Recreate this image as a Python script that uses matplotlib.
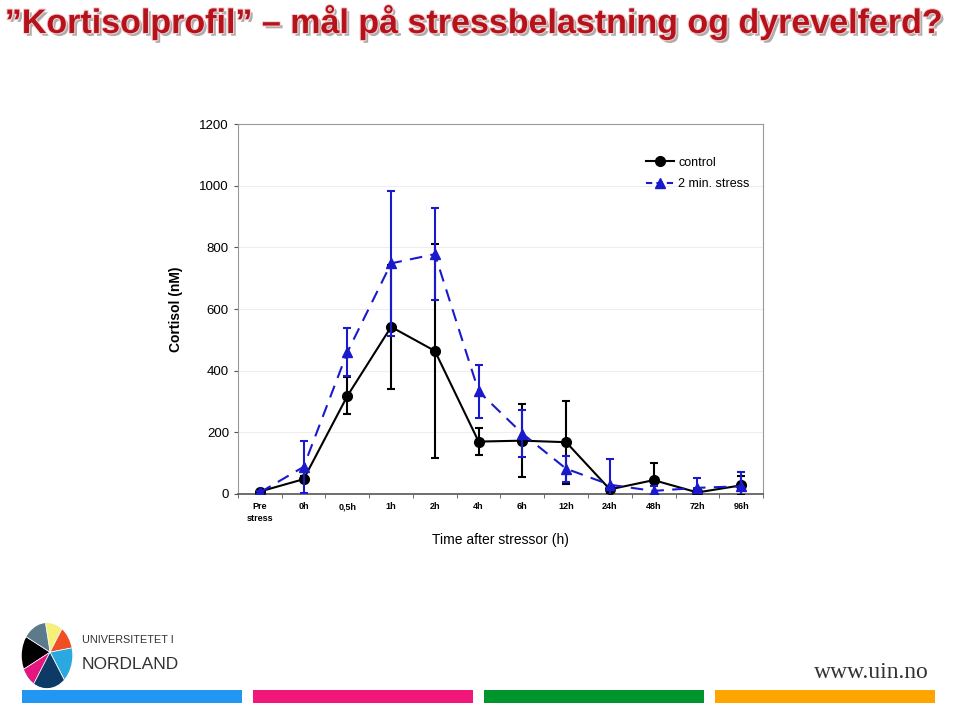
import numpy as np
import matplotlib
matplotlib.use("Agg")
import matplotlib.pyplot as plt
import matplotlib.patheffects as pe
from matplotlib.patches import Wedge, Ellipse, Rectangle
from matplotlib.lines import Line2D

categories = ["Pre\nstress", "0h", "0,5h", "1h", "2h", "4h", "6h", "12h", "24h", "48h", "72h", "96h"]
control = [8, 48, 318, 542, 464, 170, 173, 168, 15, 45, 5, 28]
control_err = [6, 10, 60, 200, 348, 43, 118, 134, 12, 55, 5, 30]
stress = [5, 88, 460, 748, 778, 333, 196, 82, 30, 10, 20, 25]
stress_err = [5, 84, 78, 235, 150, 86, 75, 42, 83, 15, 32, 47]

plt.rcParams['font.family'] = ['Liberation Sans', 'DejaVu Sans']

fig = plt.figure(figsize=(9.6, 7.03), dpi=100)

# title banner
fig.text(0.005, 0.968, "\u201dKortisolprofil\u201d \u2013 mål på stressbelastning og dyrevelferd?",
         fontsize=24.5, fontweight='bold', color='#b5121b', va='center', ha='left',
         path_effects=[pe.withSimplePatchShadow(offset=(2, -2), shadow_rgbFace='#777777', alpha=0.6),
                       pe.withStroke(linewidth=1.5, foreground='#f3d0d0')])

ax = fig.add_axes([0.2479, 0.2973, 0.5469, 0.5263])
x = np.arange(len(categories))

ax.errorbar(x, control, yerr=control_err, color='black', lw=1.5, marker='o', ms=7,
            capsize=3, elinewidth=1.5, capthick=1.5, label='control', zorder=3)
ax.errorbar(x, stress, yerr=stress_err, color='#1a1acc', lw=1.5, ls=(0, (6, 4)), marker='^', ms=7,
            capsize=3, elinewidth=1.5, capthick=1.5, label='2 min. stress', zorder=4)

ax.set_xlim(-0.5, len(categories) - 0.5)
ax.set_ylim(0, 1200)
ax.set_yticks(np.arange(0, 1201, 200))
ax.set_xticks(x)
ax.set_xticklabels(categories, fontsize=6.5, fontweight='bold', linespacing=1.35)
ax.set_xticks(np.arange(-0.5, len(categories), 1), minor=True)
ax.tick_params(axis='x', which='major', length=0, pad=6)
ax.tick_params(axis='x', which='minor', length=3, color='#555555')
ax.tick_params(axis='y', labelsize=9.5, length=3, color='#555555')
ax.grid(axis='y', color='#eeeeee', lw=0.8)
ax.set_axisbelow(True)
for s in ax.spines.values():
    s.set_color('#999999')
ax.spines['bottom'].set_color('#555555')
ax.spines['bottom'].set_linewidth(1.2)

ax.set_ylabel("Cortisol (nM)", fontsize=10, fontweight='bold', labelpad=12)
ax.set_xlabel("Time after stressor (h)", fontsize=10, labelpad=7)

h1 = Line2D([], [], color='black', lw=1.5, marker='o', ms=7)
h2 = Line2D([], [], color='#1a1acc', lw=1.5, ls=(0, (3, 2)), marker='^', ms=7)
ax.legend([h1, h2], ['control', '2 min. stress'], loc='upper left', bbox_to_anchor=(0.755, 0.942),
          frameon=False, fontsize=9, handlelength=2.3, handletextpad=0.3, labelspacing=0.75)

# logo
lax = fig.add_axes([0.018, 0.02, 0.062, 0.095])
lax.set_xlim(-1, 1)
lax.set_ylim(-1, 1)
lax.axis('off')
clip = Ellipse((0, 0), 1.7, 1.95, transform=lax.transData, fc='none', ec='none')
lax.add_patch(clip)
wedge_cols = [('#f5f07a', 60, 100), ('#f04e23', 10, 60), ('#2aa9e0', -60, 10), ('#7fd0f0', -100, -60),
              ('#1a5fa8', -150, -100), ('#000000', 150, 210), ('#e5177f', 210, 240),
              ('#5c7a8c', 100, 150), ('#0d3b66', 240, 300)]
for col, a1, a2 in wedge_cols:
    w = Wedge((0.1, 0.1), 1.6, a1, a2, fc=col, ec='white', lw=0.5)
    lax.add_patch(w)
    w.set_clip_path(clip)
fig.text(0.085, 0.09, "UNIVERSITETET I", fontsize=7.8, color='#333333', va='center')
fig.text(0.085, 0.055, "NORDLAND", fontsize=12.5, color='#333333', va='center')
fig.text(0.967, 0.043, "www.uin.no", fontsize=17, family='Liberation Serif', color='#333333',
         ha='right', va='center')

bar_cols = ['#2196f3', '#f0167a', '#00962d', '#ffa500']
bar_x = [22, 253, 484, 715]
for bx, bc in zip(bar_x, bar_cols):
    fig.add_artist(Rectangle((bx / 960, 0.0), 220 / 960, 13 / 703, transform=fig.transFigure,
                             fc=bc, ec='none'))

fig.savefig("out.png", dpi=100)
